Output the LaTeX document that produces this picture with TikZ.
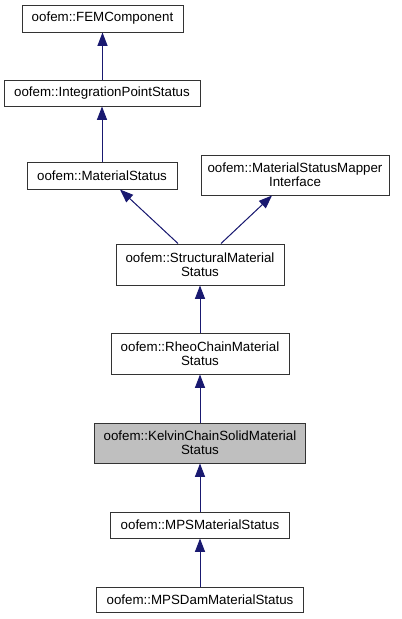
\documentclass[tikz,border=0pt]{standalone}
\usepackage{fontspec}
\setmainfont{Liberation Sans}
\usetikzlibrary{arrows.meta,calc}
\definecolor{edgeblue}{HTML}{191970}
\definecolor{kelvingray}{HTML}{BFBFBF}

\begin{document}
\begin{tikzpicture}[x=0.75pt,y=-0.75pt,>={Triangle[length=10pt,width=7.5pt]},
  cls/.style={draw=black!80,line width=0.75pt,align=center,inner sep=0pt,
    font=\fontsize{10}{10.5}\selectfont},
  edge/.style={<-,draw=edgeblue,fill=edgeblue,line width=0.75pt}]
\useasboundingbox (0,0) rectangle (401,619);
\node[cls,minimum width=120.75pt,minimum height=20.25pt] (fem) at (102.5,18.5) {oofem::FEMComponent};
\node[cls,minimum width=147pt,minimum height=19.5pt] (ips) at (102,93) {oofem::IntegrationPointStatus};
\node[cls,minimum width=112.5pt,minimum height=20.25pt] (ms) at (102,175.5) {oofem::MaterialStatus};
\node[cls,minimum width=141pt,minimum height=30pt] (msmi) at (295,175) {oofem::MaterialStatusMapper\\Interface};
\node[cls,minimum width=126pt,minimum height=30.75pt] (sms) at (200,264.5) {oofem::StructuralMaterial\\Status};
\node[cls,minimum width=133.5pt,minimum height=30.75pt] (rcms) at (200,353.5) {oofem::RheoChainMaterial\\Status};
\node[cls,fill=kelvingray,minimum width=158.25pt,minimum height=30pt] (kcsms) at (200,443) {oofem::KelvinChainSolidMaterial\\Status};
\node[cls,minimum width=134.25pt,minimum height=19.5pt] (mps) at (200,525) {oofem::MPSMaterialStatus};
\node[cls,minimum width=155.25pt,minimum height=18.75pt] (mpsdam) at (200,599.5) {oofem::MPSDamMaterialStatus};
% inheritance arrows
\draw[edge] (fem.south) -- (fem.south |- ips.north);
\draw[edge] (ips.south) -- (ips.south |- ms.north);
\draw[edge] ($(ms.south)+(18,0)$) -- ($(sms.north)+(-22,0)$);
\draw[edge] ($(msmi.south)+(-23,0)$) -- ($(sms.north)+(21,0)$);
\draw[edge] (sms) -- (rcms);
\draw[edge] (rcms) -- (kcsms);
\draw[edge] (kcsms) -- (mps);
\draw[edge] (mps) -- (mpsdam);
\end{tikzpicture}
\end{document}
